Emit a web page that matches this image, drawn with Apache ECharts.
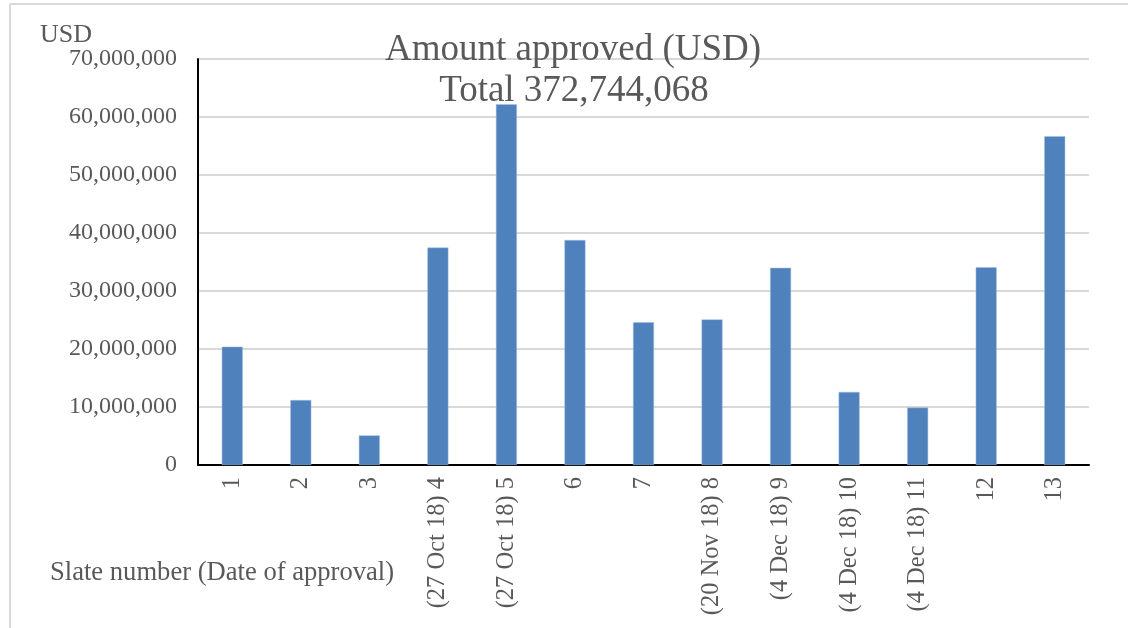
<!DOCTYPE html>
<html>
<head>
<meta charset="utf-8">
<script src="https://cdn.jsdelivr.net/npm/echarts@6/dist/echarts.min.js"></script>
<style>
  html, body { margin: 0; padding: 0; background: #fff; }
  #chart { width: 1128px; height: 628px; }
</style>
</head>
<body>
<div id="chart"></div>
<script>
// Slate labels (number with approval date where known)
const categories = [
  '1', '2', '3', '(27 Oct 18) 4', '(27 Oct 18) 5', '6', '7',
  '(20 Nov 18) 8', '(4 Dec 18) 9', '(4 Dec 18) 10', '(4 Dec 18) 11', '12', '13'
];
// Amount approved per slate, USD
const amounts = [
  20400000, 11200000, 5100000, 37500000, 62200000, 38800000, 24600000,
  25100000, 34000000, 12600000, 9900000, 34100000, 56700000
];
const yTicks = [0, 10000000, 20000000, 30000000, 40000000, 50000000, 60000000, 70000000];
const titleLines = ['Amount approved (USD)', 'Total 372,744,068'];

const FONT = '"Liberation Serif", "Times New Roman", serif';
const TEXT = '#595959';

const chart = echarts.init(document.getElementById('chart'));
chart.setOption({
  animation: false,
  backgroundColor: '#fff',
  grid: { left: 198, top: 59, right: 39, bottom: 163, containLabel: false },
  xAxis: {
    type: 'category',
    data: categories,
    axisLine: { lineStyle: { color: '#000', width: 2 } },
    axisTick: { show: false },
    axisLabel: {
      rotate: 90, margin: 12, interval: 0,
      fontFamily: FONT, fontSize: 24.5, color: TEXT
    }
  },
  yAxis: {
    type: 'value',
    min: yTicks[0],
    max: yTicks[yTicks.length - 1],
    interval: yTicks[1] - yTicks[0],
    axisLine: { show: true, lineStyle: { color: '#000', width: 2 } },
    axisTick: { show: false },
    splitLine: { lineStyle: { color: '#d9d9d9', width: 2 } },
    axisLabel: {
      margin: 21, fontFamily: FONT, fontSize: 24, color: TEXT,
      formatter: v => v.toLocaleString('en-US')
    }
  },
  series: [{
    type: 'bar',
    data: amounts,
    barWidth: 21,
    z: 2,
    itemStyle: { color: '#4f81bd', borderColor: '#a7c0de', borderWidth: 0.5 }
  }],
  graphic: [
    { type: 'line', shape: { x1: 10, y1: 4, x2: 1128, y2: 4 }, style: { stroke: '#d9d9d9', lineWidth: 2 } },
    { type: 'line', shape: { x1: 10, y1: 4, x2: 10, y2: 628 }, style: { stroke: '#d9d9d9', lineWidth: 2 } },
    { type: 'text', z: 100, x: 40, y: 35, style: { text: 'USD', font: '26px ' + FONT, fill: TEXT, textVerticalAlign: 'middle' } },
    { type: 'text', z: 100, x: 573, y: 50, style: { text: titleLines[0], font: '37px ' + FONT, fill: TEXT, textAlign: 'center', textVerticalAlign: 'middle' } },
    { type: 'text', z: 100, x: 574, y: 91, style: { text: titleLines[1], font: '37px ' + FONT, fill: TEXT, textAlign: 'center', textVerticalAlign: 'middle' } },
    { type: 'text', z: 100, x: 50, y: 573, style: { text: 'Slate number (Date of approval)', font: '26.6px ' + FONT, fill: TEXT, textVerticalAlign: 'middle' } }
  ]
});
</script>
</body>
</html>
